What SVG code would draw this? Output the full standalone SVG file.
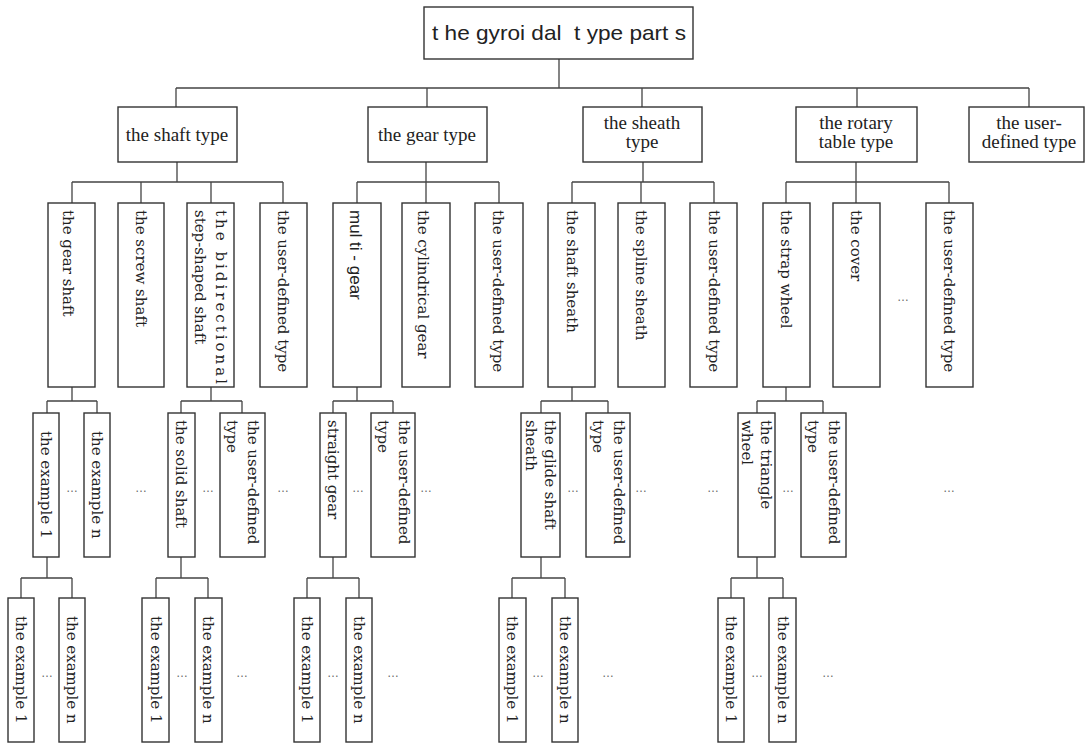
<svg xmlns="http://www.w3.org/2000/svg" width="1085" height="744" viewBox="0 0 1085 744">
  <style>
    .box { fill: #ffffff; stroke: #333333; stroke-width: 1.4; }
    .wire { fill: none; stroke: #444444; stroke-width: 1.3; }
    .root { font-family: "Liberation Sans", Arial, sans-serif; font-size: 21px; fill: #222222; text-anchor: middle; }
    .t2 { font-family: "Liberation Serif", "Times New Roman", serif; font-size: 19px; fill: #222222; text-anchor: middle; }
    .tv { font-family: "DejaVu Serif", "Liberation Serif", serif; font-size: 15px; fill: #222222; dominant-baseline: central; }
    .tvs { font-family: "Liberation Sans", Arial, sans-serif; font-size: 17px; fill: #222222; dominant-baseline: central; }
    .dots { font-family: "Liberation Sans", Arial, sans-serif; font-size: 12px; fill: #666666; text-anchor: middle; }
  </style>
  <rect width="1085" height="744" fill="#ffffff"/>

  <!-- connectors -->
  <g id="connectors" class="wire">
    <!-- root to level 2 -->
    <path d="M559 59 V88 M176 88 H1029 M176 88 V107 M427 88 V107 M642 88 V107 M857 88 V107 M1029 88 V107"/>
    <!-- shaft type children -->
    <path d="M177 162 V182 M72 182 H283 M72 182 V203 M141 182 V203 M211 182 V203 M283 182 V203"/>
    <!-- gear type children -->
    <path d="M426 162 V182 M357 182 H499 M357 182 V203 M426 182 V203 M499 182 V203"/>
    <!-- sheath type children -->
    <path d="M643 162 V182 M572 182 H714 M572 182 V203 M641 182 V203 M714 182 V203"/>
    <!-- rotary table type children -->
    <path d="M856 162 V182 M786 182 H949 M786 182 V203 M856 182 V203 M949 182 V203"/>
    <!-- level 3 to level 4 -->
    <path d="M72 387 V401 M47 401 H97 M47 401 V413 M97 401 V413"/>
    <path d="M211 387 V401 M181 401 H242 M181 401 V413 M242 401 V413"/>
    <path d="M357 387 V401 M333 401 H393 M333 401 V413 M393 401 V413"/>
    <path d="M572 387 V401 M541 401 H608 M541 401 V413 M608 401 V413"/>
    <path d="M786 387 V401 M757 401 H823 M757 401 V413 M823 401 V413"/>
    <!-- level 4 to level 5 -->
    <path d="M47 557 V578 M21 578 H72 M21 578 V598 M72 578 V598"/>
    <path d="M181 557 V578 M156 578 H208 M156 578 V598 M208 578 V598"/>
    <path d="M333 557 V578 M307 578 H359 M307 578 V598 M359 578 V598"/>
    <path d="M541 557 V578 M512 578 H565 M512 578 V598 M565 578 V598"/>
    <path d="M757 557 V578 M731 578 H783 M731 578 V598 M783 578 V598"/>
  </g>

  <!-- root -->
  <g id="root">
    <rect class="box" x="424" y="7" width="269" height="52"/>
    <text class="root" x="559" y="40" textLength="254" lengthAdjust="spacingAndGlyphs" xml:space="preserve">t he gyroi dal  t ype part s</text>
  </g>

  <!-- level 2 -->
  <g id="shaft-type">
    <rect class="box" x="118" y="107" width="119" height="55"/>
    <text class="t2" x="177" y="141">the shaft type</text>
  </g>
  <g id="gear-type">
    <rect class="box" x="368" y="107" width="119" height="55"/>
    <text class="t2" x="427" y="141">the gear type</text>
  </g>
  <g id="sheath-type">
    <rect class="box" x="583" y="107" width="119" height="55"/>
    <text class="t2" x="642" y="129">the sheath</text>
    <text class="t2" x="642" y="148">type</text>
  </g>
  <g id="rotary-type">
    <rect class="box" x="796" y="107" width="121" height="55"/>
    <text class="t2" x="856" y="129">the rotary</text>
    <text class="t2" x="856" y="148">table type</text>
  </g>
  <g id="user-type">
    <rect class="box" x="969" y="107" width="115" height="55"/>
    <text class="t2" x="1029" y="129">the user-</text>
    <text class="t2" x="1029" y="148">defined type</text>
  </g>

  <!-- level 3 -->
  <g id="gear-shaft">
    <rect class="box" x="48" y="203" width="47" height="184"/>
    <text class="tv" transform="translate(68 210) rotate(90)">the gear shaft</text>
  </g>
  <g id="screw-shaft">
    <rect class="box" x="118" y="203" width="46" height="184"/>
    <text class="tv" transform="translate(141 210) rotate(90)">the screw shaft</text>
  </g>
  <g id="bidirectional-shaft">
    <rect class="box" x="187" y="203" width="47" height="184"/>
    <text class="tv" transform="translate(221 210) rotate(90)" textLength="174" lengthAdjust="spacing">the bidirectional</text>
    <text class="tv" transform="translate(200 210) rotate(90)">step-shaped shaft</text>
  </g>
  <g id="shaft-user">
    <rect class="box" x="260" y="203" width="47" height="184"/>
    <text class="tv" transform="translate(283 210) rotate(90)">the user-defined type</text>
  </g>
  <g id="multi-gear">
    <rect class="box" x="333" y="203" width="48" height="184"/>
    <text class="tvs" transform="translate(355 210) rotate(90)" xml:space="preserve">mul ti - gear</text>
  </g>
  <g id="cylindrical-gear">
    <rect class="box" x="402" y="203" width="48" height="184"/>
    <text class="tv" transform="translate(423 210) rotate(90)">the cylindrical gear</text>
  </g>
  <g id="gear-user">
    <rect class="box" x="475" y="203" width="48" height="184"/>
    <text class="tv" transform="translate(498 210) rotate(90)">the user-defined type</text>
  </g>
  <g id="shaft-sheath">
    <rect class="box" x="548" y="203" width="47" height="184"/>
    <text class="tv" transform="translate(572 210) rotate(90)">the shaft sheath</text>
  </g>
  <g id="spline-sheath">
    <rect class="box" x="618" y="203" width="47" height="184"/>
    <text class="tv" transform="translate(641 210) rotate(90)">the spline sheath</text>
  </g>
  <g id="sheath-user">
    <rect class="box" x="690" y="203" width="47" height="184"/>
    <text class="tv" transform="translate(714 210) rotate(90)">the user-defined type</text>
  </g>
  <g id="strap-wheel">
    <rect class="box" x="763" y="203" width="47" height="184"/>
    <text class="tv" transform="translate(786 210) rotate(90)">the strap wheel</text>
  </g>
  <g id="cover">
    <rect class="box" x="833" y="203" width="47" height="184"/>
    <text class="tv" transform="translate(856 210) rotate(90)">the cover</text>
  </g>
  <g id="rotary-user">
    <rect class="box" x="926" y="203" width="47" height="184"/>
    <text class="tv" transform="translate(949 210) rotate(90)">the user-defined type</text>
  </g>

  <!-- level 4 -->
  <g id="gear-shaft-ex1">
    <rect class="box" x="33" y="413" width="26" height="144"/>
    <text class="tv" transform="translate(46 431) rotate(90)">the example 1</text>
  </g>
  <g id="gear-shaft-exn">
    <rect class="box" x="84" y="413" width="26" height="144"/>
    <text class="tv" transform="translate(97 431) rotate(90)">the example n</text>
  </g>
  <g id="solid-shaft">
    <rect class="box" x="168" y="413" width="27" height="144"/>
    <text class="tv" transform="translate(181 420) rotate(90)">the solid shaft</text>
  </g>
  <g id="bidirectional-user">
    <rect class="box" x="220" y="413" width="45" height="144"/>
    <text class="tv" transform="translate(253 420) rotate(90)">the user-defined</text>
    <text class="tv" transform="translate(232 420) rotate(90)">type</text>
  </g>
  <g id="straight-gear">
    <rect class="box" x="320" y="413" width="26" height="144"/>
    <text class="tv" transform="translate(333 420) rotate(90)">straight gear</text>
  </g>
  <g id="multi-gear-user">
    <rect class="box" x="371" y="413" width="44" height="144"/>
    <text class="tv" transform="translate(404 420) rotate(90)">the user-defined</text>
    <text class="tv" transform="translate(383 420) rotate(90)">type</text>
  </g>
  <g id="glide-shaft-sheath">
    <rect class="box" x="521" y="413" width="39" height="144"/>
    <text class="tv" transform="translate(550 420) rotate(90)">the glide shaft</text>
    <text class="tv" transform="translate(531 420) rotate(90)">sheath</text>
  </g>
  <g id="shaft-sheath-user">
    <rect class="box" x="586" y="413" width="44" height="144"/>
    <text class="tv" transform="translate(619 420) rotate(90)">the user-defined</text>
    <text class="tv" transform="translate(598 420) rotate(90)">type</text>
  </g>
  <g id="triangle-wheel">
    <rect class="box" x="738" y="413" width="37" height="144"/>
    <text class="tv" transform="translate(766 420) rotate(90)">the triangle</text>
    <text class="tv" transform="translate(747 420) rotate(90)">wheel</text>
  </g>
  <g id="strap-wheel-user">
    <rect class="box" x="801" y="413" width="45" height="144"/>
    <text class="tv" transform="translate(834 420) rotate(90)">the user-defined</text>
    <text class="tv" transform="translate(813 420) rotate(90)">type</text>
  </g>

  <!-- level 5 -->
  <g id="ex1-a">
    <rect class="box" x="8" y="598" width="26" height="144"/>
    <text class="tv" transform="translate(21 616) rotate(90)">the example 1</text>
  </g>
  <g id="exn-a">
    <rect class="box" x="59" y="598" width="26" height="144"/>
    <text class="tv" transform="translate(72 616) rotate(90)">the example n</text>
  </g>
  <g id="ex1-b">
    <rect class="box" x="142" y="598" width="27" height="144"/>
    <text class="tv" transform="translate(156 616) rotate(90)">the example 1</text>
  </g>
  <g id="exn-b">
    <rect class="box" x="195" y="598" width="27" height="144"/>
    <text class="tv" transform="translate(208 616) rotate(90)">the example n</text>
  </g>
  <g id="ex1-c">
    <rect class="box" x="294" y="598" width="26" height="144"/>
    <text class="tv" transform="translate(307 616) rotate(90)">the example 1</text>
  </g>
  <g id="exn-c">
    <rect class="box" x="346" y="598" width="26" height="144"/>
    <text class="tv" transform="translate(359 616) rotate(90)">the example n</text>
  </g>
  <g id="ex1-d">
    <rect class="box" x="499" y="598" width="27" height="144"/>
    <text class="tv" transform="translate(512 616) rotate(90)">the example 1</text>
  </g>
  <g id="exn-d">
    <rect class="box" x="552" y="598" width="26" height="144"/>
    <text class="tv" transform="translate(565 616) rotate(90)">the example n</text>
  </g>
  <g id="ex1-e">
    <rect class="box" x="718" y="598" width="26" height="144"/>
    <text class="tv" transform="translate(731 616) rotate(90)">the example 1</text>
  </g>
  <g id="exn-e">
    <rect class="box" x="769" y="598" width="27" height="144"/>
    <text class="tv" transform="translate(783 616) rotate(90)">the example n</text>
  </g>

  <!-- ellipses marking omitted siblings -->
  <g id="ellipses" class="dots">
    <text x="903" y="301">…</text>
    <text x="72" y="492">…</text>
    <text x="141" y="492">…</text>
    <text x="208" y="492">…</text>
    <text x="283" y="492">…</text>
    <text x="358" y="492">…</text>
    <text x="426" y="492">…</text>
    <text x="573" y="492">…</text>
    <text x="641" y="492">…</text>
    <text x="713" y="492">…</text>
    <text x="788" y="492">…</text>
    <text x="949" y="492">…</text>
    <text x="47" y="677">…</text>
    <text x="182" y="677">…</text>
    <text x="242" y="677">…</text>
    <text x="333" y="677">…</text>
    <text x="393" y="677">…</text>
    <text x="538" y="677">…</text>
    <text x="608" y="677">…</text>
    <text x="757" y="677">…</text>
    <text x="828" y="677">…</text>
  </g>
</svg>
